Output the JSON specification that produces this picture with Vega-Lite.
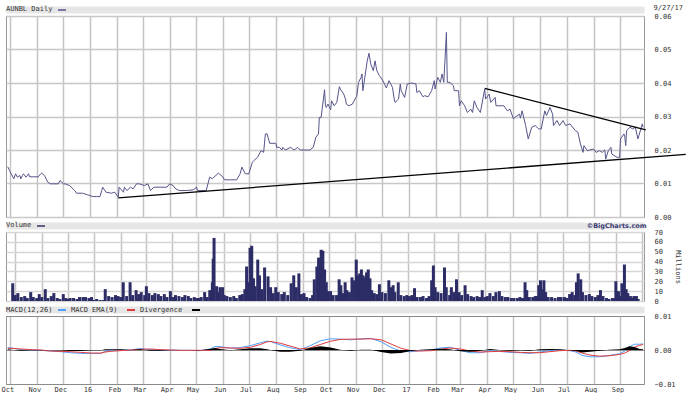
{
  "$schema": "https://vega.github.io/schema/vega-lite/v6.json",
  "background": "white",
  "padding": {"left": 0, "top": 2, "right": 0, "bottom": 0},
  "bounds": "flush",
  "spacing": 15,
  "config": {
    "font": "DejaVu Sans Mono",
    "view": {"stroke": "#999999"},
    "axis": {"labelFont": "DejaVu Sans Mono", "labelFontSize": 7, "labelColor": "#333333", "titleFont": "DejaVu Sans Mono", "titleFontSize": 7, "titleFontWeight": "normal", "titleColor": "#333333", "gridWidth": 1.5, "ticks": false, "domain": false},
    "legend": {"labelFont": "DejaVu Sans Mono", "labelFontSize": 7, "labelColor": "#333333", "titleFont": "DejaVu Sans Mono", "titleFontSize": 7, "titleFontWeight": "normal", "titleColor": "#333333", "padding": 0}
  },
  "resolve": {"scale": {"x": "independent", "y": "independent", "color": "independent"}, "legend": {"color": "independent"}, "axis": {"x": "independent", "y": "independent"}},
  "datasets": {
    "price": [
      {"d":"2015-09-28","p":0.0150},{"d":"2015-09-30","p":0.0139},{"d":"2015-10-02","p":0.0129},{"d":"2015-10-05","p":0.0114},{"d":"2015-10-07","p":0.0129},{"d":"2015-10-09","p":0.0119},{"d":"2015-10-12","p":0.0124},{"d":"2015-10-13","p":0.0114},{"d":"2015-10-15","p":0.0124},{"d":"2015-10-16","p":0.0129},{"d":"2015-10-19","p":0.0119},{"d":"2015-10-22","p":0.0129},{"d":"2015-10-23","p":0.0120},{"d":"2015-10-28","p":0.0120},{"d":"2015-11-02","p":0.0120},{"d":"2015-11-05","p":0.0129},{"d":"2015-11-06","p":0.0131},{"d":"2015-11-09","p":0.0124},{"d":"2015-11-10","p":0.0120},{"d":"2015-11-13","p":0.0104},{"d":"2015-11-16","p":0.0099},{"d":"2015-11-20","p":0.0099},{"d":"2015-11-25","p":0.0099},{"d":"2015-11-27","p":0.0109},{"d":"2015-12-01","p":0.0099},{"d":"2015-12-03","p":0.0099},{"d":"2015-12-08","p":0.0094},{"d":"2015-12-14","p":0.0079},{"d":"2015-12-16","p":0.0071},{"d":"2015-12-23","p":0.0071},{"d":"2015-12-29","p":0.0066},
      {"d":"2016-01-04","p":0.0061},{"d":"2016-01-08","p":0.0061},{"d":"2016-01-12","p":0.0061},{"d":"2016-01-14","p":0.0079},{"d":"2016-01-15","p":0.0089},{"d":"2016-01-19","p":0.0074},{"d":"2016-01-25","p":0.0071},{"d":"2016-01-29","p":0.0074},{"d":"2016-02-02","p":0.0059},{"d":"2016-02-03","p":0.0089},{"d":"2016-02-08","p":0.0074},{"d":"2016-02-09","p":0.0089},{"d":"2016-02-12","p":0.0079},{"d":"2016-02-16","p":0.0089},{"d":"2016-02-19","p":0.0084},{"d":"2016-02-23","p":0.0099},{"d":"2016-02-26","p":0.0099},{"d":"2016-03-03","p":0.0094},{"d":"2016-03-07","p":0.0099},{"d":"2016-03-10","p":0.0079},{"d":"2016-03-14","p":0.0089},{"d":"2016-03-21","p":0.0089},{"d":"2016-03-29","p":0.0089},{"d":"2016-04-01","p":0.0099},{"d":"2016-04-05","p":0.0094},{"d":"2016-04-08","p":0.0084},{"d":"2016-04-12","p":0.0079},{"d":"2016-04-20","p":0.0079},{"d":"2016-04-28","p":0.0081},{"d":"2016-05-02","p":0.0089},{"d":"2016-05-03","p":0.0079},{"d":"2016-05-06","p":0.0079},{"d":"2016-05-13","p":0.0079},{"d":"2016-05-17","p":0.0119},{"d":"2016-05-20","p":0.0114},{"d":"2016-05-27","p":0.0131},{"d":"2016-06-01","p":0.0120},{"d":"2016-06-03","p":0.0111},{"d":"2016-06-10","p":0.0111},{"d":"2016-06-17","p":0.0111},{"d":"2016-06-21","p":0.0129},{"d":"2016-06-23","p":0.0149},{"d":"2016-06-27","p":0.0129},{"d":"2016-07-01","p":0.0129},{"d":"2016-07-05","p":0.0163},{"d":"2016-07-07","p":0.0169},{"d":"2016-07-11","p":0.0178},{"d":"2016-07-15","p":0.0198},{"d":"2016-07-18","p":0.0193},{"d":"2016-07-20","p":0.0248},{"d":"2016-07-22","p":0.0248},{"d":"2016-07-25","p":0.0220},{"d":"2016-08-01","p":0.0220},{"d":"2016-08-02","p":0.0208},{"d":"2016-08-05","p":0.0208},{"d":"2016-08-08","p":0.0200},{"d":"2016-08-09","p":0.0208},{"d":"2016-08-12","p":0.0200},{"d":"2016-08-18","p":0.0208},{"d":"2016-08-22","p":0.0200},{"d":"2016-08-26","p":0.0208},{"d":"2016-08-29","p":0.0200},{"d":"2016-09-09","p":0.0200},{"d":"2016-09-13","p":0.0208},{"d":"2016-09-16","p":0.0238},{"d":"2016-09-19","p":0.0248},{"d":"2016-09-20","p":0.0297},{"d":"2016-09-22","p":0.0297},{"d":"2016-09-26","p":0.0380},{"d":"2016-09-27","p":0.0332},{"d":"2016-09-28","p":0.0327},{"d":"2016-09-30","p":0.0337},{"d":"2016-10-03","p":0.0320},{"d":"2016-10-04","p":0.0347},{"d":"2016-10-07","p":0.0332},{"d":"2016-10-10","p":0.0342},{"d":"2016-10-13","p":0.0389},{"d":"2016-10-14","p":0.0382},{"d":"2016-10-18","p":0.0367},{"d":"2016-10-20","p":0.0352},{"d":"2016-10-21","p":0.0337},{"d":"2016-10-24","p":0.0332},{"d":"2016-10-28","p":0.0337},{"d":"2016-11-01","p":0.0357},{"d":"2016-11-02","p":0.0360},{"d":"2016-11-04","p":0.0402},{"d":"2016-11-07","p":0.0417},{"d":"2016-11-08","p":0.0427},{"d":"2016-11-09","p":0.0377},{"d":"2016-11-11","p":0.0412},{"d":"2016-11-14","p":0.0466},{"d":"2016-11-16","p":0.0489},{"d":"2016-11-18","p":0.0457},{"d":"2016-11-21","p":0.0437},{"d":"2016-11-23","p":0.0466},{"d":"2016-11-25","p":0.0437},{"d":"2016-11-28","p":0.0422},{"d":"2016-12-02","p":0.0407},{"d":"2016-12-06","p":0.0385},{"d":"2016-12-09","p":0.0407},{"d":"2016-12-13","p":0.0387},{"d":"2016-12-15","p":0.0352},{"d":"2016-12-16","p":0.0342},{"d":"2016-12-20","p":0.0352},{"d":"2016-12-22","p":0.0397},{"d":"2016-12-23","p":0.0377},{"d":"2016-12-27","p":0.0357},{"d":"2016-12-30","p":0.0397},
      {"d":"2017-01-04","p":0.0400},{"d":"2017-01-09","p":0.0397},{"d":"2017-01-10","p":0.0372},{"d":"2017-01-13","p":0.0377},{"d":"2017-01-17","p":0.0359},{"d":"2017-01-19","p":0.0362},{"d":"2017-01-23","p":0.0359},{"d":"2017-01-27","p":0.0377},{"d":"2017-01-30","p":0.0407},{"d":"2017-01-31","p":0.0382},{"d":"2017-02-03","p":0.0417},{"d":"2017-02-06","p":0.0402},{"d":"2017-02-08","p":0.0427},{"d":"2017-02-10","p":0.0402},{"d":"2017-02-13","p":0.0551},{"d":"2017-02-14","p":0.0402},{"d":"2017-02-17","p":0.0402},{"d":"2017-02-21","p":0.0392},{"d":"2017-02-22","p":0.0377},{"d":"2017-02-27","p":0.0377},{"d":"2017-02-28","p":0.0332},{"d":"2017-03-02","p":0.0347},{"d":"2017-03-06","p":0.0332},{"d":"2017-03-09","p":0.0312},{"d":"2017-03-13","p":0.0322},{"d":"2017-03-15","p":0.0312},{"d":"2017-03-17","p":0.0347},{"d":"2017-03-20","p":0.0327},{"d":"2017-03-24","p":0.0312},{"d":"2017-03-29","p":0.0382},{"d":"2017-03-30","p":0.0352},{"d":"2017-04-03","p":0.0367},{"d":"2017-04-05","p":0.0342},{"d":"2017-04-10","p":0.0357},{"d":"2017-04-11","p":0.0332},{"d":"2017-04-20","p":0.0332},{"d":"2017-04-24","p":0.0317},{"d":"2017-04-27","p":0.0322},{"d":"2017-05-01","p":0.0293},{"d":"2017-05-03","p":0.0298},{"d":"2017-05-08","p":0.0307},{"d":"2017-05-09","p":0.0295},{"d":"2017-05-11","p":0.0317},{"d":"2017-05-15","p":0.0273},{"d":"2017-05-18","p":0.0233},{"d":"2017-05-22","p":0.0268},{"d":"2017-05-26","p":0.0273},{"d":"2017-05-30","p":0.0263},{"d":"2017-06-02","p":0.0263},{"d":"2017-06-06","p":0.0317},{"d":"2017-06-08","p":0.0303},{"d":"2017-06-12","p":0.0327},{"d":"2017-06-15","p":0.0307},{"d":"2017-06-16","p":0.0273},{"d":"2017-06-20","p":0.0288},{"d":"2017-06-23","p":0.0273},{"d":"2017-06-27","p":0.0288},{"d":"2017-06-30","p":0.0273},{"d":"2017-07-05","p":0.0278},{"d":"2017-07-11","p":0.0258},{"d":"2017-07-14","p":0.0253},{"d":"2017-07-17","p":0.0218},{"d":"2017-07-20","p":0.0193},{"d":"2017-07-21","p":0.0213},{"d":"2017-07-25","p":0.0198},{"d":"2017-08-01","p":0.0203},{"d":"2017-08-04","p":0.0193},{"d":"2017-08-08","p":0.0198},{"d":"2017-08-11","p":0.0193},{"d":"2017-08-14","p":0.0200},{"d":"2017-08-15","p":0.0173},{"d":"2017-08-18","p":0.0198},{"d":"2017-08-21","p":0.0208},{"d":"2017-08-22","p":0.0188},{"d":"2017-08-28","p":0.0178},{"d":"2017-08-31","p":0.0178},{"d":"2017-09-01","p":0.0233},{"d":"2017-09-05","p":0.0248},{"d":"2017-09-06","p":0.0238},{"d":"2017-09-07","p":0.0213},{"d":"2017-09-08","p":0.0258},{"d":"2017-09-12","p":0.0268},{"d":"2017-09-15","p":0.0263},{"d":"2017-09-18","p":0.0268},{"d":"2017-09-21","p":0.0233},{"d":"2017-09-25","p":0.0268},{"d":"2017-09-26","p":0.0278},{"d":"2017-09-27","p":0.0268}
    ],
    "trend": [
      {"start":"2016-02-02","end":"2017-11-15","v1":0.00572,"v2":0.01869},
      {"start":"2017-03-29","end":"2017-09-30","v1":0.0384,"v2":0.0260}
    ],
    "volume": [
      {"d":"2015-09-28","v":18},{"d":"2015-10-01","v":6},{"d":"2015-10-04","v":8},{"d":"2015-10-08","v":4},{"d":"2015-10-12","v":5},{"d":"2015-10-15","v":3},{"d":"2015-10-19","v":9},{"d":"2015-10-22","v":4},{"d":"2015-10-26","v":3},{"d":"2015-10-29","v":7},{"d":"2015-11-01","v":4},{"d":"2015-11-05","v":12},{"d":"2015-11-08","v":3},{"d":"2015-11-12","v":5},{"d":"2015-11-15","v":8},{"d":"2015-11-19","v":3},{"d":"2015-11-22","v":2},{"d":"2015-11-26","v":7},{"d":"2015-11-29","v":3},{"d":"2015-12-01","v":2},{"d":"2015-12-04","v":3},{"d":"2015-12-08","v":3},{"d":"2015-12-12","v":2},{"d":"2015-12-15","v":4},{"d":"2015-12-19","v":4},{"d":"2015-12-22","v":4},{"d":"2015-12-26","v":3},{"d":"2015-12-29","v":4},
      {"d":"2016-01-01","v":1},{"d":"2016-01-04","v":2},{"d":"2016-01-08","v":1},{"d":"2016-01-12","v":1},{"d":"2016-01-14","v":12},{"d":"2016-01-18","v":5},{"d":"2016-01-22","v":4},{"d":"2016-01-26","v":6},{"d":"2016-01-29","v":5},{"d":"2016-02-01","v":4},{"d":"2016-02-04","v":19},{"d":"2016-02-08","v":5},{"d":"2016-02-12","v":19},{"d":"2016-02-15","v":6},{"d":"2016-02-19","v":11},{"d":"2016-02-22","v":7},{"d":"2016-02-25","v":9},{"d":"2016-02-29","v":6},{"d":"2016-03-02","v":15},{"d":"2016-03-05","v":8},{"d":"2016-03-09","v":6},{"d":"2016-03-12","v":8},{"d":"2016-03-16","v":7},{"d":"2016-03-19","v":5},{"d":"2016-03-23","v":7},{"d":"2016-03-26","v":4},{"d":"2016-03-30","v":10},{"d":"2016-04-02","v":4},{"d":"2016-04-05","v":6},{"d":"2016-04-09","v":5},{"d":"2016-04-13","v":4},{"d":"2016-04-16","v":6},{"d":"2016-04-20","v":5},{"d":"2016-04-23","v":3},{"d":"2016-04-27","v":4},{"d":"2016-04-30","v":3},{"d":"2016-05-02","v":3},{"d":"2016-05-05","v":4},{"d":"2016-05-09","v":9},{"d":"2016-05-12","v":4},{"d":"2016-05-15","v":11},{"d":"2016-05-18","v":19},{"d":"2016-05-19","v":43},{"d":"2016-05-20","v":64},{"d":"2016-05-23","v":15},{"d":"2016-05-25","v":9},{"d":"2016-05-27","v":14},{"d":"2016-05-30","v":14},{"d":"2016-06-01","v":6},{"d":"2016-06-04","v":5},{"d":"2016-06-08","v":4},{"d":"2016-06-12","v":5},{"d":"2016-06-15","v":3},{"d":"2016-06-19","v":6},{"d":"2016-06-22","v":7},{"d":"2016-06-25","v":12},{"d":"2016-06-27","v":35},{"d":"2016-06-29","v":19},{"d":"2016-07-01","v":54},{"d":"2016-07-03","v":56},{"d":"2016-07-05","v":23},{"d":"2016-07-07","v":15},{"d":"2016-07-10","v":42},{"d":"2016-07-12","v":26},{"d":"2016-07-15","v":12},{"d":"2016-07-18","v":34},{"d":"2016-07-22","v":25},{"d":"2016-07-25","v":14},{"d":"2016-07-28","v":8},{"d":"2016-07-31","v":14},{"d":"2016-08-03","v":9},{"d":"2016-08-07","v":7},{"d":"2016-08-10","v":9},{"d":"2016-08-14","v":6},{"d":"2016-08-18","v":18},{"d":"2016-08-21","v":26},{"d":"2016-08-24","v":14},{"d":"2016-08-27","v":28},{"d":"2016-08-30","v":7},{"d":"2016-09-02","v":8},{"d":"2016-09-05","v":4},{"d":"2016-09-09","v":3},{"d":"2016-09-12","v":6},{"d":"2016-09-14","v":22},{"d":"2016-09-17","v":35},{"d":"2016-09-19","v":44},{"d":"2016-09-22","v":52},{"d":"2016-09-24","v":51},{"d":"2016-09-26","v":32},{"d":"2016-09-28","v":19},{"d":"2016-09-30","v":10},{"d":"2016-10-03","v":10},{"d":"2016-10-06","v":6},{"d":"2016-10-10","v":6},{"d":"2016-10-13","v":22},{"d":"2016-10-15","v":16},{"d":"2016-10-18","v":8},{"d":"2016-10-20","v":19},{"d":"2016-10-22","v":11},{"d":"2016-10-25","v":9},{"d":"2016-10-28","v":24},{"d":"2016-10-31","v":21},{"d":"2016-11-02","v":42},{"d":"2016-11-04","v":26},{"d":"2016-11-06","v":28},{"d":"2016-11-08","v":32},{"d":"2016-11-10","v":26},{"d":"2016-11-12","v":24},{"d":"2016-11-14","v":29},{"d":"2016-11-16","v":32},{"d":"2016-11-18","v":23},{"d":"2016-11-20","v":11},{"d":"2016-11-23","v":8},{"d":"2016-11-26","v":7},{"d":"2016-11-29","v":17},{"d":"2016-12-02","v":9},{"d":"2016-12-06","v":8},{"d":"2016-12-10","v":21},{"d":"2016-12-13","v":14},{"d":"2016-12-15","v":16},{"d":"2016-12-17","v":9},{"d":"2016-12-21","v":19},{"d":"2016-12-24","v":6},{"d":"2016-12-28","v":5},{"d":"2016-12-31","v":6},
      {"d":"2017-01-03","v":5},{"d":"2017-01-06","v":6},{"d":"2017-01-09","v":13},{"d":"2017-01-12","v":4},{"d":"2017-01-16","v":4},{"d":"2017-01-19","v":5},{"d":"2017-01-23","v":3},{"d":"2017-01-26","v":5},{"d":"2017-01-29","v":21},{"d":"2017-01-31","v":36},{"d":"2017-02-02","v":14},{"d":"2017-02-05","v":9},{"d":"2017-02-09","v":8},{"d":"2017-02-13","v":34},{"d":"2017-02-15","v":14},{"d":"2017-02-19","v":6},{"d":"2017-02-21","v":14},{"d":"2017-02-24","v":9},{"d":"2017-02-27","v":22},{"d":"2017-03-02","v":9},{"d":"2017-03-05","v":6},{"d":"2017-03-09","v":16},{"d":"2017-03-12","v":7},{"d":"2017-03-16","v":5},{"d":"2017-03-19","v":4},{"d":"2017-03-23","v":5},{"d":"2017-03-26","v":4},{"d":"2017-03-29","v":11},{"d":"2017-04-01","v":4},{"d":"2017-04-04","v":5},{"d":"2017-04-07","v":8},{"d":"2017-04-11","v":5},{"d":"2017-04-14","v":9},{"d":"2017-04-18","v":10},{"d":"2017-04-21","v":5},{"d":"2017-04-25","v":4},{"d":"2017-04-28","v":4},{"d":"2017-05-02","v":3},{"d":"2017-05-05","v":3},{"d":"2017-05-09","v":3},{"d":"2017-05-12","v":4},{"d":"2017-05-15","v":3},{"d":"2017-05-18","v":19},{"d":"2017-05-20","v":11},{"d":"2017-05-23","v":4},{"d":"2017-05-27","v":4},{"d":"2017-05-30","v":5},{"d":"2017-06-01","v":5},{"d":"2017-06-03","v":16},{"d":"2017-06-05","v":21},{"d":"2017-06-07","v":12},{"d":"2017-06-09","v":21},{"d":"2017-06-11","v":9},{"d":"2017-06-14","v":4},{"d":"2017-06-18","v":4},{"d":"2017-06-22","v":3},{"d":"2017-06-26","v":4},{"d":"2017-06-29","v":4},{"d":"2017-07-03","v":4},{"d":"2017-07-06","v":3},{"d":"2017-07-09","v":7},{"d":"2017-07-12","v":9},{"d":"2017-07-15","v":6},{"d":"2017-07-17","v":19},{"d":"2017-07-19","v":28},{"d":"2017-07-22","v":22},{"d":"2017-07-24","v":9},{"d":"2017-07-28","v":6},{"d":"2017-08-01","v":7},{"d":"2017-08-04","v":5},{"d":"2017-08-08","v":4},{"d":"2017-08-11","v":6},{"d":"2017-08-14","v":11},{"d":"2017-08-17","v":5},{"d":"2017-08-21","v":3},{"d":"2017-08-24","v":2},{"d":"2017-08-28","v":3},{"d":"2017-08-31","v":3},{"d":"2017-09-01","v":20},{"d":"2017-09-04","v":10},{"d":"2017-09-06","v":5},{"d":"2017-09-08","v":18},{"d":"2017-09-11","v":37},{"d":"2017-09-13","v":12},{"d":"2017-09-15","v":8},{"d":"2017-09-18","v":5},{"d":"2017-09-20","v":3},{"d":"2017-09-22","v":5},{"d":"2017-09-25","v":5},{"d":"2017-09-27","v":2}
    ],
    "macd": [
      {"d":"2015-09-28","m":0.0007,"s":0.0005,"dv":0.0002},{"d":"2015-10-02","m":0.0006,"s":0.0005,"dv":0.0001},{"d":"2015-10-13","m":0.0001,"s":0.0003,"dv":-0.0002},{"d":"2015-10-25","m":0.0000,"s":0.0001,"dv":-0.0001},{"d":"2015-11-05","m":-0.0001,"s":0.0000,"dv":-0.0001},{"d":"2015-11-16","m":-0.0003,"s":-0.0003,"dv":0.0000},{"d":"2015-11-28","m":-0.0005,"s":-0.0004,"dv":-0.0001},{"d":"2015-12-09","m":-0.0008,"s":-0.0005,"dv":-0.0003},{"d":"2015-12-21","m":-0.0010,"s":-0.0007,"dv":-0.0003},{"d":"2016-01-02","m":-0.0010,"s":-0.0009,"dv":-0.0001},{"d":"2016-01-13","m":-0.0010,"s":-0.0009,"dv":-0.0001},{"d":"2016-01-18","m":-0.0004,"s":-0.0006,"dv":0.0002},{"d":"2016-01-24","m":-0.0002,"s":-0.0004,"dv":0.0002},{"d":"2016-02-04","m":0.0000,"s":-0.0002,"dv":0.0002},{"d":"2016-02-16","m":0.0000,"s":0.0000,"dv":0.0000},{"d":"2016-02-27","m":0.0004,"s":0.0002,"dv":0.0002},{"d":"2016-03-10","m":0.0001,"s":0.0003,"dv":-0.0002},{"d":"2016-03-21","m":-0.0001,"s":0.0001,"dv":-0.0002},{"d":"2016-04-02","m":0.0000,"s":0.0000,"dv":0.0000},{"d":"2016-04-13","m":-0.0001,"s":-0.0001,"dv":0.0000},{"d":"2016-04-25","m":-0.0001,"s":-0.0001,"dv":0.0000},{"d":"2016-05-06","m":-0.0002,"s":-0.0001,"dv":-0.0001},{"d":"2016-05-18","m":0.0003,"s":-0.0001,"dv":0.0004},{"d":"2016-05-23","m":0.0010,"s":0.0004,"dv":0.0006},{"d":"2016-05-29","m":0.0010,"s":0.0007,"dv":0.0003},{"d":"2016-06-10","m":0.0005,"s":0.0006,"dv":-0.0001},{"d":"2016-06-21","m":0.0007,"s":0.0005,"dv":0.0002},{"d":"2016-07-03","m":0.0013,"s":0.0008,"dv":0.0005},{"d":"2016-07-14","m":0.0021,"s":0.0016,"dv":0.0005},{"d":"2016-07-22","m":0.0026,"s":0.0024,"dv":0.0002},{"d":"2016-07-26","m":0.0025,"s":0.0025,"dv":0.0000},{"d":"2016-08-06","m":0.0015,"s":0.0020,"dv":-0.0005},{"d":"2016-08-17","m":0.0007,"s":0.0012,"dv":-0.0005},{"d":"2016-08-29","m":0.0001,"s":0.0003,"dv":-0.0002},{"d":"2016-09-09","m":0.0012,"s":0.0006,"dv":0.0006},{"d":"2016-09-21","m":0.0027,"s":0.0016,"dv":0.0011},{"d":"2016-10-03","m":0.0033,"s":0.0026,"dv":0.0007},{"d":"2016-10-14","m":0.0032,"s":0.0031,"dv":0.0001},{"d":"2016-10-26","m":0.0030,"s":0.0032,"dv":-0.0002},{"d":"2016-11-07","m":0.0033,"s":0.0032,"dv":0.0001},{"d":"2016-11-18","m":0.0034,"s":0.0033,"dv":0.0001},{"d":"2016-11-30","m":0.0024,"s":0.0030,"dv":-0.0006},{"d":"2016-12-11","m":0.0008,"s":0.0018,"dv":-0.0010},{"d":"2016-12-23","m":-0.0004,"s":0.0005,"dv":-0.0009},{"d":"2017-01-03","m":-0.0005,"s":-0.0002,"dv":-0.0003},{"d":"2017-01-14","m":-0.0002,"s":-0.0003,"dv":0.0001},{"d":"2017-01-26","m":0.0000,"s":-0.0002,"dv":0.0002},{"d":"2017-02-06","m":0.0006,"s":0.0002,"dv":0.0004},{"d":"2017-02-17","m":0.0008,"s":0.0006,"dv":0.0002},{"d":"2017-03-01","m":-0.0001,"s":0.0003,"dv":-0.0004},{"d":"2017-03-12","m":-0.0008,"s":-0.0003,"dv":-0.0005},{"d":"2017-03-24","m":-0.0008,"s":-0.0006,"dv":-0.0002},{"d":"2017-04-04","m":-0.0002,"s":-0.0005,"dv":0.0003},{"d":"2017-04-15","m":-0.0004,"s":-0.0004,"dv":0.0000},{"d":"2017-04-27","m":-0.0007,"s":-0.0005,"dv":-0.0002},{"d":"2017-05-09","m":-0.0008,"s":-0.0007,"dv":-0.0001},{"d":"2017-05-20","m":-0.0010,"s":-0.0008,"dv":-0.0002},{"d":"2017-05-31","m":-0.0006,"s":-0.0008,"dv":0.0002},{"d":"2017-06-12","m":-0.0002,"s":-0.0005,"dv":0.0003},{"d":"2017-06-23","m":0.0000,"s":-0.0002,"dv":0.0002},{"d":"2017-07-05","m":-0.0002,"s":-0.0001,"dv":-0.0001},{"d":"2017-07-12","m":-0.0006,"s":-0.0003,"dv":-0.0003},{"d":"2017-07-19","m":-0.0016,"s":-0.0009,"dv":-0.0007},{"d":"2017-07-28","m":-0.0020,"s":-0.0015,"dv":-0.0005},{"d":"2017-08-08","m":-0.0020,"s":-0.0018,"dv":-0.0002},{"d":"2017-08-19","m":-0.0016,"s":-0.0017,"dv":0.0001},{"d":"2017-08-31","m":-0.0011,"s":-0.0013,"dv":0.0002},{"d":"2017-09-06","m":-0.0003,"s":-0.0009,"dv":0.0006},{"d":"2017-09-11","m":0.0009,"s":-0.0002,"dv":0.0011},{"d":"2017-09-17","m":0.0017,"s":0.0008,"dv":0.0009},{"d":"2017-09-23","m":0.0017,"s":0.0014,"dv":0.0003},{"d":"2017-09-27","m":0.0018,"s":0.0016,"dv":0.0002}
    ]
  },
  "vconcat": [
    {
      "width": 638,
      "height": 201,
      "layer": [
        {
          "data": {"name": "price"},
          "mark": {"type": "line", "strokeWidth": 1},
          "encoding": {
            "x": {"field": "d", "type": "temporal",
              "scale": {"domain": [{"year": 2015, "month": 9, "date": 26, "utc": true}, {"year": 2017, "month": 9, "date": 28, "utc": true}], "nice": false},
              "axis": {"orient": "top", "offset": 6.5, "domain": true, "domainColor": "#e6e6e6", "domainWidth": 7, "domainCap": "butt", "labels": false, "ticks": false, "grid": true, "gridColor": "#c4c4c4", "gridWidth": 1.5, "tickCount": {"interval": "month", "step": 1}, "title": null}},
            "y": {"field": "p", "type": "quantitative",
              "scale": {"domain": [0, 0.06], "nice": false, "zero": false},
              "axis": {"orient": "right", "tickCount": 6, "labelExpr": "format(datum.value, '.2f')", "labelPadding": 10, "labelFlush": false, "labelOverlap": false, "grid": true, "gridColor": "#c8c8c8", "gridWidth": 1.5, "title": "9/27/17", "titleAngle": 0, "titleAlign": "left", "titleBaseline": "middle", "titleX": 9, "titleY": -9}},
            "color": {"datum": "AUNBL Daily",
              "scale": {"domain": ["AUNBL Daily"], "range": ["#55558c"]},
              "legend": {"orient": "none", "legendX": 0, "legendY": -11, "title": "AUNBL Daily", "titleOrient": "left", "titlePadding": 4, "direction": "horizontal", "labelExpr": "''", "labelOffset": 0, "symbolType": "stroke", "symbolSize": 64, "symbolStrokeWidth": 1.5}}
          }
        },
        {
          "data": {"name": "trend"},
          "mark": {"type": "rule", "color": "black", "strokeWidth": 1.3, "clip": false},
          "encoding": {
            "x": {"field": "start", "type": "temporal"},
            "x2": {"field": "end"},
            "y": {"field": "v1", "type": "quantitative"},
            "y2": {"field": "v2"}
          }
        }
      ]
    },
    {
      "width": 638,
      "height": 69,
      "data": {"name": "volume"},
      "mark": {"type": "bar", "size": 3},
      "encoding": {
        "x": {"field": "d", "type": "temporal",
          "scale": {"domain": [{"year": 2015, "month": 9, "date": 26, "utc": true}, {"year": 2017, "month": 9, "date": 28, "utc": true}], "nice": false},
          "axis": {"orient": "top", "offset": 6.5, "domain": true, "domainColor": "#e6e6e6", "domainWidth": 7, "domainCap": "butt", "labels": false, "ticks": false, "grid": true, "gridColor": "#c4c4c4", "gridWidth": 1.5, "tickCount": {"interval": "month", "step": 1},
            "title": "©BigCharts.com", "titleFont": "DejaVu Sans", "titleFontWeight": "bold", "titleFontSize": 6.5, "titleColor": "#3a3a72", "titleX": 640, "titleY": 0, "titleAlign": "right", "titleBaseline": "middle"}},
        "y": {"field": "v", "type": "quantitative",
          "scale": {"domain": [0, 70], "nice": false},
          "axis": {"orient": "right", "values": [0, 10, 20, 30, 40, 50, 60, 70], "labelPadding": 10, "labelFlush": false, "labelOverlap": false, "grid": true, "gridColor": "#d6d6d6", "gridWidth": 1.5, "title": "Millions", "titleAngle": 90, "titleX": 33, "titleY": 34.5, "titleAlign": "center", "titleBaseline": "middle"}},
        "color": {"datum": "Volume",
          "scale": {"domain": ["Volume"], "range": ["#2c2c66"]},
          "legend": {"orient": "none", "legendX": 0, "legendY": -11, "title": "Volume", "titleOrient": "left", "titlePadding": 4, "direction": "horizontal", "labelExpr": "''", "labelOffset": 0, "symbolType": "M-1,-0.18H1V0.18H-1Z", "symbolSize": 64}}
      }
    },
    {
      "width": 638,
      "height": 68,
      "data": {"name": "macd"},
      "resolve": {"axis": {"x": "independent"}},
      "layer": [
        {
          "mark": {"type": "line", "strokeWidth": 1},
          "encoding": {
            "x": {"field": "d", "type": "temporal",
              "scale": {"domain": [{"year": 2015, "month": 9, "date": 26, "utc": true}, {"year": 2017, "month": 9, "date": 28, "utc": true}], "nice": false},
              "axis": {"orient": "bottom", "labels": true, "ticks": false, "domain": false, "grid": false, "tickCount": {"interval": "month", "step": 1}, "labelExpr": "month(datum.value) == 0 ? timeFormat(datum.value, '%y') : timeFormat(datum.value, '%b')", "labelAlign": "center", "labelOffset": -3, "labelPadding": 1, "labelFlush": false, "labelOverlap": false, "title": null}},
            "y": {"field": "m", "type": "quantitative",
              "scale": {"domain": [-0.01, 0.01], "nice": false, "zero": false},
              "axis": {"orient": "right", "tickCount": 2, "format": ".2f", "labelPadding": 10, "labelFlush": false, "labelOverlap": false, "grid": true, "gridColor": "#8a8a8a", "gridWidth": 1, "title": null}},
            "color": {"datum": "MACD(12,26)",
              "scale": {"domain": ["MACD(12,26)", "MACD EMA(9)", "Divergence"], "range": ["#4f9fff", "#e23b3b", "#000000"]},
              "legend": {"orient": "none", "legendX": 0, "legendY": -11, "title": "MACD(12,26)", "titleOrient": "left", "titlePadding": 4, "direction": "horizontal", "labelExpr": "datum.label == 'MACD(12,26)' ? 'MACD EMA(9)' : (datum.label == 'MACD EMA(9)' ? 'Divergence' : '')", "labelOffset": 4, "columnPadding": 5, "symbolType": "stroke", "symbolSize": 64, "symbolStrokeWidth": 2}}
          }
        },
        {
          "mark": {"type": "line", "strokeWidth": 1},
          "encoding": {
            "x": {"field": "d", "type": "temporal", "axis": null},
            "y": {"field": "s", "type": "quantitative"},
            "color": {"datum": "MACD EMA(9)"}
          }
        },
        {
          "mark": {"type": "area", "color": "black"},
          "encoding": {
            "x": {"field": "d", "type": "temporal",
              "axis": {"orient": "top", "offset": 6.5, "domain": true, "domainColor": "#e6e6e6", "domainWidth": 7, "domainCap": "butt", "labels": false, "ticks": false, "grid": true, "gridColor": "#c4c4c4", "gridWidth": 1.5, "tickCount": {"interval": "month", "step": 1}, "title": null}},
            "y": {"field": "dv", "type": "quantitative"},
            "y2": {"datum": 0}
          }
        }
      ]
    }
  ]
}
